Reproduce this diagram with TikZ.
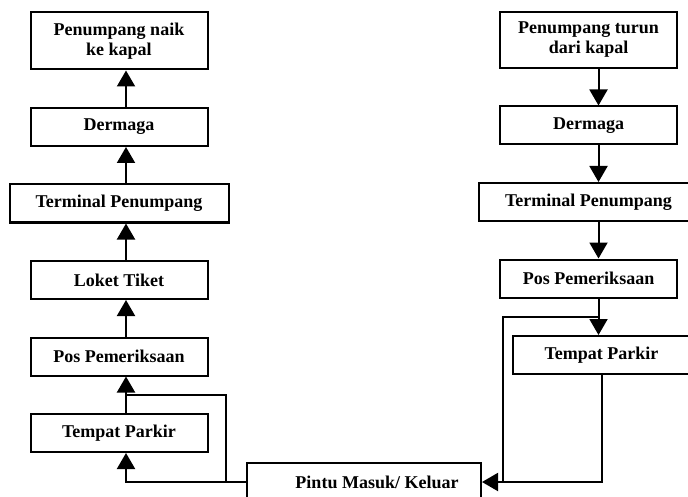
\documentclass[tikz,border=0pt]{standalone}
\usepackage{fontspec}
\setmainfont{Liberation Serif}
\usetikzlibrary{arrows.meta,positioning,calc}

\begin{document}
\begin{tikzpicture}[
    x=0.5pt, y=-0.5pt,
    node distance=18.25pt,
    box/.style={rectangle, draw, line width=1pt, minimum width=88.5pt, minimum height=19pt, inner sep=2pt, font=\bfseries\fontsize{9}{10}\selectfont, align=center},
    tallbox/.style={box, minimum height=28.5pt},
    widebox/.style={box, minimum width=109.5pt},
    arrow/.style={-{Triangle[width=9pt,length=8pt]}, line width=1pt},
    link/.style={line width=1pt}
]
    \clip (0,0) rectangle (688,496);
    \useasboundingbox (0,0) rectangle (688,496);

    % Boarding path (left column)
    \node[tallbox] (naik) at (119,41) {Penumpang naik\\ke kapal};
    \node[box, below=of naik] (dermagaL) {Dermaga};
    \node[widebox, below=of dermagaL] (terminalL) {Terminal Penumpang};
    \node[box, below=of terminalL] (loket) {Loket Tiket};
    \node[box, below=of loket] (posL) {Pos Pemeriksaan};
    \node[box, below=of posL] (parkirL) {Tempat Parkir};

    % Leaving path (right column)
    \node[tallbox, minimum height=28pt] (turun) at (588.5,40) {Penumpang turun\\dari kapal};
    \node[box, below=of turun] (dermagaR) {Dermaga};
    \node[widebox, below=of dermagaR, minimum width=110pt] (terminalR) {Terminal Penumpang};
    \node[box, below=of terminalR] (posR) {Pos Pemeriksaan};
    \node[box, below=of posR, xshift=6.5pt] (parkirR) {Tempat Parkir};

    % Gate (bottom)
    \node[box, minimum width=117pt] (pintu) at (364,482) {\hspace*{13pt}Pintu Masuk/ Keluar};

    % Left arrows (upwards)
    \draw[arrow] ([xshift=3.5pt]dermagaL.north) -- ([xshift=3.5pt]naik.south);
    \draw[arrow] ([xshift=3.5pt]terminalL.north) -- ([xshift=3.5pt]dermagaL.south);
    \draw[arrow] ([xshift=3.5pt]loket.north) -- ([xshift=3.5pt]terminalL.south);
    \draw[arrow] ([xshift=3.5pt]posL.north) -- ([xshift=3.5pt]loket.south);
    \draw[arrow] ([xshift=3.5pt]parkirL.north) -- ([xshift=3.5pt]posL.south);
    \draw[arrow] (pintu.west) -| ([xshift=3.5pt]parkirL.south);
    \coordinate (splitL) at ($([xshift=3.5pt]parkirL.north)!0.5!([xshift=3.5pt]posL.south)$);
    \draw[link] ([xshift=-10pt]pintu.west) |- (splitL);

    % Right arrows (downwards)
    \draw[arrow] ([xshift=5pt]turun.south) -- ([xshift=5pt]turun.south |- dermagaR.north);
    \draw[arrow] ([xshift=5pt]dermagaR.south) -- ([xshift=5pt]dermagaR.south |- terminalR.north);
    \draw[arrow] ([xshift=5pt]terminalR.south) -- ([xshift=5pt]terminalR.south |- posR.north);
    \draw[arrow] ([xshift=5pt]posR.south) -- ([xshift=5pt]posR.south |- parkirR.north);
    \coordinate (splitR) at ($([xshift=5pt]posR.south)!0.5!([xshift=5pt]posR.south |- parkirR.north)$);
    \draw[link] (splitR) -| ([xshift=10.5pt]pintu.east);
    \draw[arrow] (parkirR.south) |- (pintu.east);

\end{tikzpicture}
\end{document}
